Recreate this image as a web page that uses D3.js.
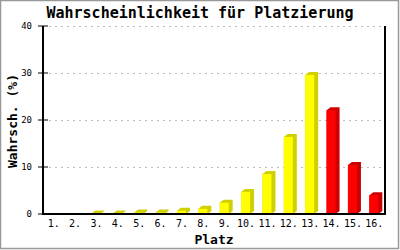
<!DOCTYPE html>
<html lang="de">
<head>
  <meta charset="UTF-8" />
  <title>Wahrscheinlichkeit für Platzierung</title>
  <script src="https://d3js.org/d3.v7.min.js"></script>
  <style>
    body { margin: 0; background: white; }
    svg text { font-family: "DejaVu Sans Mono", monospace; }
  </style>
</head>
<body>
  <svg width="400" height="250"></svg>

  <script>
    const plaetze = ["1.", "2.", "3.", "4.", "5.", "6.", "7.", "8.", "9.", "10.", "11.", "12.", "13.", "14.", "15.", "16."];
    const werte = [0, 0, 0.1, 0.1, 0.3, 0.3, 0.7, 1.1, 2.4, 4.7, 8.5, 16.4, 29.6, 22.1, 10.4, 4.0];
    const gruppe = ["g", "g", "g", "g", "g", "g", "g", "g", "g", "g", "g", "g", "g", "r", "r", "r"];
    const yTicks = [0, 10, 20, 30, 40];

    const farben = {
      g: { front: "#ffff00", seite: "#d0d000" },
      r: { front: "#ff0000", seite: "#cc0000" }
    };

    const svg = d3.select("svg");
    const pLeft = 43, pRight = 385, pTop = 26, pBottom = 214;

    const x = d3.scaleBand().domain(plaetze).range([pLeft, pRight]);
    const y = d3.scaleLinear().domain([0, 40]).range([pBottom, pTop]);

    // rahmen
    svg.append("rect")
      .attr("x", 0.5).attr("y", 0.5)
      .attr("width", 398).attr("height", 248)
      .attr("fill", "none").attr("stroke", "#999").attr("stroke-width", 1.5);

    // gitter
    svg.selectAll("line.grid")
      .data(yTicks.filter(d => d > 0))
      .enter().append("line")
      .attr("x1", pLeft + 6).attr("x2", pRight)
      .attr("y1", d => y(d) + 0.5).attr("y2", d => y(d) + 0.5)
      .attr("stroke", "#bbb").attr("stroke-dasharray", "2,4");

    // balken (3D)
    const bw = 9, dx = 4, dy = 3;
    const bars = svg.selectAll("g.bar")
      .data(werte.map((v, i) => ({ p: plaetze[i], v: v, g: gruppe[i] })).filter(d => d.v > 0))
      .enter().append("g");

    bars.append("polygon")
      .attr("fill", d => farben[d.g].seite)
      .attr("points", d => {
        const x0 = x(d.p) + x.bandwidth() / 2 - 5, x1 = x0 + bw, yt = y(d.v);
        return [[x0, yt], [x0 + dx, yt - dy], [x1 + dx, yt - dy], [x1 + dx, pBottom - dy], [x1, pBottom], [x0, pBottom]]
          .map(p => p.join(",")).join(" ");
      });

    bars.append("rect")
      .attr("x", d => x(d.p) + x.bandwidth() / 2 - 5)
      .attr("y", d => y(d.v))
      .attr("width", bw)
      .attr("height", d => pBottom - y(d.v))
      .attr("fill", d => farben[d.g].front);

    // achsen
    svg.append("line").attr("x1", pLeft).attr("x2", pLeft).attr("y1", pTop).attr("y2", pBottom + 1)
      .attr("stroke", "black").attr("stroke-width", 2);
    svg.append("line").attr("x1", pRight).attr("x2", pRight).attr("y1", pTop).attr("y2", pBottom + 1)
      .attr("stroke", "black").attr("stroke-width", 2);
    svg.append("line").attr("x1", pLeft).attr("x2", pRight + 1).attr("y1", pBottom).attr("y2", pBottom)
      .attr("stroke", "black").attr("stroke-width", 2);

    svg.selectAll("line.tick")
      .data(yTicks)
      .enter().append("line")
      .attr("x1", pLeft - 5).attr("x2", pLeft + 5)
      .attr("y1", d => y(d)).attr("y2", d => y(d))
      .attr("stroke", "black").attr("stroke-width", 1);

    svg.selectAll("text.ytick")
      .data(yTicks)
      .enter().append("text")
      .attr("x", 32).attr("y", d => y(d) + 3)
      .attr("text-anchor", "end")
      .attr("font-size", 9)
      .text(d => d);

    svg.selectAll("text.xtick")
      .data(plaetze)
      .enter().append("text")
      .attr("x", d => x(d) + x.bandwidth() / 2)
      .attr("y", 227)
      .attr("text-anchor", "middle")
      .attr("font-size", 10)
      .text(d => d);

    // titel
    svg.append("text")
      .attr("x", 200).attr("y", 18)
      .attr("text-anchor", "middle")
      .attr("font-size", 15).attr("font-weight", "bold")
      .text("Wahrscheinlichkeit für Platzierung");

    svg.append("text")
      .attr("x", 214).attr("y", 244)
      .attr("text-anchor", "middle")
      .attr("font-size", 13).attr("font-weight", "bold")
      .text("Platz");

    svg.append("text")
      .attr("transform", "translate(17,121) rotate(-90)")
      .attr("text-anchor", "middle")
      .attr("font-size", 13).attr("font-weight", "bold")
      .text("Wahrsch. (%)");
  </script>
</body>
</html>
